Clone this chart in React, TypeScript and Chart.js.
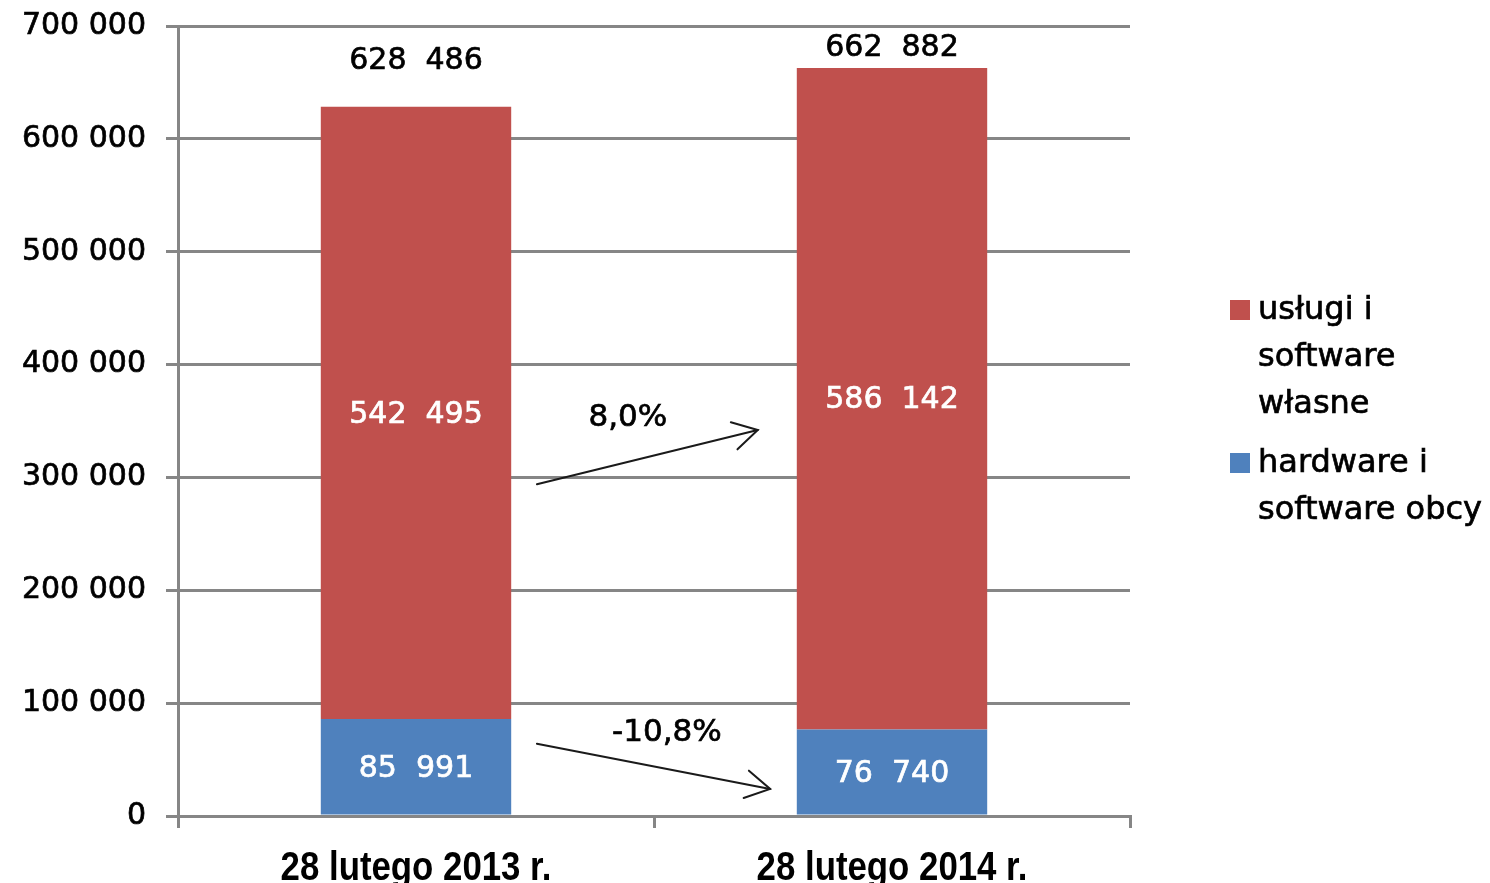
import React, { useEffect, useRef } from "react";
import { Chart, registerables } from "chart.js";

Chart.register(...registerables);

const categories = ["28 lutego 2013 r.", "28 lutego 2014 r."];
const hardwareValues = [85991, 76740];
const servicesValues = [542495, 586142];
const seriesNames = ["hardware i software obcy", "usługi i software własne"];
const legendLines = [
  ["usługi i", "software", "własne"],
  ["hardware i", "software obcy"],
];
const yTickValues = [0, 100000, 200000, 300000, 400000, 500000, 600000, 700000];
const changeLabels = ["8,0%", "-10,8%"];

// annotation geometry in data units (category index, value)
const arrowStarts = [
  [0.254, 294000],
  [0.254, 64000],
];
const arrowEnds = [
  [0.718, 342000],
  [0.744, 24000],
];
const changeLabelAt = [
  [0.445, 353000],
  [0.527, 73500],
];

const RED = "#C0504D";
const BLUE = "#4F81BD";
const GRID = "#868686";
const FONT = "'DejaVu Sans', Verdana, sans-serif";
const CAT_FONT = "bold 40px 'Liberation Sans', Arial, sans-serif";
const STROKE = 0.7;

function fmt(n: number, sep: string) {
  return String(n).replace(/\B(?=(\d{3})+(?!\d))/g, sep);
}

function boldText(ctx: any, text: string, x: number, y: number, color: string) {
  ctx.fillStyle = color;
  ctx.strokeStyle = color;
  ctx.lineWidth = STROKE;
  ctx.strokeText(text, x, y);
  ctx.fillText(text, x, y);
}

const labelsPlugin = {
  id: "labelsPlugin",
  afterDatasetsDraw(chart: any) {
    const ctx = chart.ctx;
    const area = chart.chartArea;
    ctx.save();
    ctx.font = `30px ${FONT}`;
    ctx.textAlign = "center";
    ctx.textBaseline = "middle";
    chart.data.datasets.forEach((ds: any, di: number) => {
      const meta = chart.getDatasetMeta(di);
      meta.data.forEach((bar: any, i: number) => {
        const v = ds.data[i];
        boldText(ctx, fmt(v, "  "), bar.x, (bar.y + bar.base) / 2 + 2, "#ffffff");
      });
    });
    // totals
    const topMeta = chart.getDatasetMeta(chart.data.datasets.length - 1);
    topMeta.data.forEach((bar: any, i: number) => {
      const total = hardwareValues[i] + servicesValues[i];
      const y = Math.max(bar.y - 46, area.top + 22);
      boldText(ctx, fmt(total, "  "), bar.x, y, "#000000");
    });
    // arrows and change labels
    const xs = chart.scales.x;
    const ys = chart.scales.y;
    for (let k = 0; k < arrowStarts.length; k++) {
      const x1 = xs.getPixelForValue(arrowStarts[k][0]);
      const y1 = ys.getPixelForValue(arrowStarts[k][1]);
      const x2 = xs.getPixelForValue(arrowEnds[k][0]);
      const y2 = ys.getPixelForValue(arrowEnds[k][1]);
      ctx.strokeStyle = "#1a1a1a";
      ctx.lineWidth = 2;
      ctx.lineCap = "round";
      ctx.beginPath();
      ctx.moveTo(x1, y1);
      ctx.lineTo(x2, y2);
      ctx.stroke();
      const ang = Math.atan2(y2 - y1, x2 - x1);
      const hl = 28;
      const ha = 0.52;
      ctx.beginPath();
      ctx.moveTo(x2 - hl * Math.cos(ang - ha), y2 - hl * Math.sin(ang - ha));
      ctx.lineTo(x2, y2);
      ctx.lineTo(x2 - hl * Math.cos(ang + ha), y2 - hl * Math.sin(ang + ha));
      ctx.stroke();
      const lx = xs.getPixelForValue(changeLabelAt[k][0]);
      const ly = ys.getPixelForValue(changeLabelAt[k][1]);
      ctx.font = `31px ${FONT}`;
      boldText(ctx, changeLabels[k], lx, ly, "#000000");
    }
    ctx.restore();
  },
  afterDraw(chart: any) {
    const ctx = chart.ctx;
    const area = chart.chartArea;
    ctx.save();
    // category labels (condensed)
    const xs = chart.scales.x;
    ctx.font = CAT_FONT;
    ctx.textAlign = "center";
    ctx.textBaseline = "alphabetic";
    ctx.fillStyle = "#000";
    categories.forEach((c, i) => {
      const x = xs.getPixelForValue(i);
      ctx.save();
      ctx.translate(x, area.bottom + 64);
      ctx.scale(0.87, 1);
      ctx.fillText(c, 0, 0);
      ctx.restore();
    });
    // legend
    ctx.font = `32px ${FONT}`;
    ctx.textAlign = "left";
    ctx.textBaseline = "middle";
    const colors = [RED, BLUE];
    const sqX = area.right + 100;
    const txtX = sqX + 28;
    let y = (area.top + area.bottom) / 2 - 110;
    legendLines.forEach((lines, i) => {
      ctx.fillStyle = colors[i];
      ctx.fillRect(sqX, y - 11, 20, 20);
      lines.forEach((ln, j) => {
        boldText(ctx, ln, txtX, y + j * 47, "#000000");
      });
      y += lines.length * 47 + 12;
    });
    ctx.restore();
  },
};

export default function App() {
  const ref = useRef<HTMLCanvasElement | null>(null);
  useEffect(() => {
    if (!ref.current) return;
    const chart = new Chart(ref.current, {
      type: "bar",
      data: {
        labels: categories,
        datasets: [
          {
            label: seriesNames[0],
            data: hardwareValues,
            backgroundColor: BLUE,
            categoryPercentage: 1,
            barPercentage: 0.4,
          },
          {
            label: seriesNames[1],
            data: servicesValues,
            backgroundColor: RED,
            categoryPercentage: 1,
            barPercentage: 0.4,
          },
        ],
      },
      options: {
        animation: false,
        responsive: true,
        maintainAspectRatio: false,
        layout: { padding: { top: 26, right: 360, left: 0, bottom: 0 } },
        plugins: {
          legend: { display: false },
          tooltip: { enabled: false },
        },
        scales: {
          x: {
            stacked: true,
            grid: {
              offset: true,
              drawOnChartArea: false,
              drawTicks: true,
              tickLength: 12,
              color: GRID,
              lineWidth: 3,
            },
            border: { display: true, color: GRID, width: 3 },
            ticks: {
              color: "rgba(0,0,0,0)",
              padding: 10,
              font: { family: "'Liberation Sans', Arial, sans-serif", size: 40, weight: "bold" },
              maxRotation: 0,
            },
            afterFit(scale: any) {
              scale.height = 67;
            },
          },
          y: {
            stacked: true,
            min: 0,
            max: 700000,
            afterBuildTicks(scale: any) {
              scale.ticks = yTickValues.map((v) => ({ value: v }));
            },
            ticks: {
              color: "#000",
              padding: 20,
              textStrokeColor: "#000",
              textStrokeWidth: STROKE,
              font: { family: FONT, size: 30 },
              callback: (v: any) => fmt(Number(v), " "),
            },
            grid: {
              color: GRID,
              lineWidth: 3,
              tickLength: 12,
              drawTicks: true,
            },
            border: { display: true, color: GRID, width: 3 },
            afterFit(scale: any) {
              scale.width = 178;
              scale.paddingTop = 10;
              scale.paddingBottom = 10;
            },
          },
        },
      },
      plugins: [labelsPlugin],
    } as any);
    return () => chart.destroy();
  }, []);
  return (
    <div style={{ position: "fixed", left: 0, top: 0, width: 1490, height: 883, background: "#fff" }}>
      <canvas ref={ref} />
    </div>
  );
}
